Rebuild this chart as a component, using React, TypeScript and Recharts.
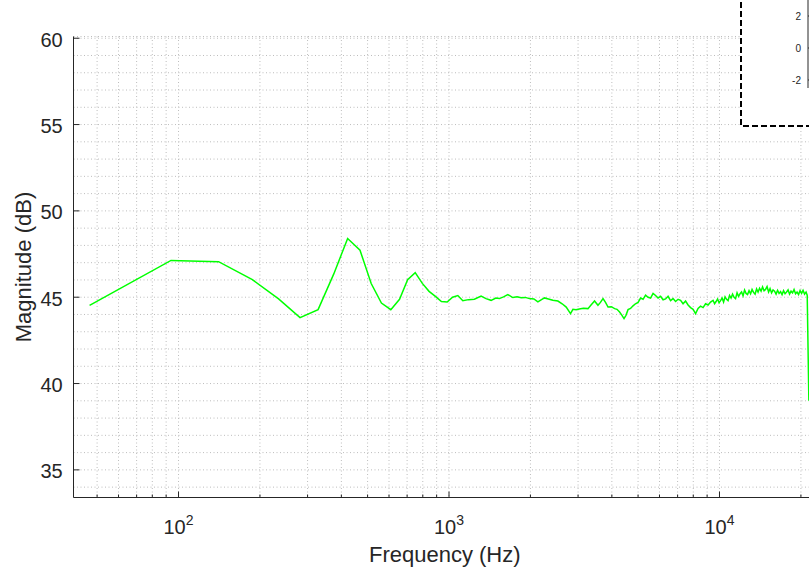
import React from "react";
import { LineChart, Line, XAxis, YAxis, CartesianGrid, Label } from "recharts";

// frequency bins (Hz) and magnitude (dB)
const freqHz = [
  46.9, 93.8, 140.6, 187.5, 234.4, 281.3, 328.1, 375, 421.9, 468.8, 515.6, 562.5,
  609.4, 656.3, 703.1, 750, 796.9, 843.8, 890.6, 937.5, 984.4, 1031, 1078, 1125,
  1180, 1241, 1314, 1370, 1431, 1490, 1536, 1590, 1650, 1722, 1785, 1848, 1915,
  1983, 2060, 2131, 2190, 2254, 2330, 2420, 2527, 2620, 2712, 2813, 2872, 2950,
  3030, 3140, 3264, 3350, 3452, 3554, 3630, 3710, 3790, 3871, 3980, 4095, 4180,
  4272, 4360, 4436, 4510, 4591, 4690, 4791, 4890,
  5000, 5108, 5217, 5330, 5444, 5562, 5681, 5803, 5928, 6056,
  6186, 6319, 6455, 6594, 6736, 6881, 7029, 7180, 7334, 7492,
  7653, 7818, 7986, 8158, 8333, 8512, 8695, 8882, 9073, 9268,
  9468, 9590, 9713, 9838, 9964, 10092, 10222, 10353, 10486, 10621,
  10757, 10895, 11035, 11177, 11321, 11466, 11613, 11763, 11914, 12067,
  12222, 12379, 12538, 12699, 12862, 13028, 13195, 13365, 13537, 13711,
  13887, 14065, 14246, 14429, 14614, 14802, 14992, 15185, 15380, 15578,
  15778, 15981, 16186, 16394, 16605, 16818, 17034, 17253, 17475, 17700,
  17927, 18157, 18391, 18627, 18866, 19109, 19354, 19603, 19855, 20110,
  20368, 20630, 20895, 21100, 21400,
];

const magnitudeDb = [
  44.53, 47.13, 47.06, 46.02, 44.9, 43.82, 44.28, 46.35, 48.4, 47.72, 45.79, 44.66,
  44.28, 44.88, 46.02, 46.42, 45.8, 45.34, 45.05, 44.75, 44.72, 45.0, 45.1, 44.8,
  44.86, 44.88, 45.07, 44.92, 44.82, 44.95, 44.92, 45.02, 45.15, 44.98, 45.02, 44.97, 44.99,
  44.92, 44.9, 44.73, 44.85, 44.96, 44.9, 44.82, 44.78, 44.62, 44.43, 44.05, 44.3, 44.28,
  44.32, 44.36, 44.34, 44.55, 44.78, 44.53, 44.7, 44.92, 44.7, 44.43, 44.45, 44.34, 44.3,
  44.14, 43.95, 43.76, 43.95, 44.28, 44.35, 44.5, 44.62,
  44.7, 44.95, 44.88, 45.12, 45.0, 44.95, 45.22, 45.1, 44.95, 45.05,
  44.85, 44.9, 45.05, 44.8, 44.92, 44.75, 44.88, 44.82, 44.62, 44.78,
  44.55, 44.4, 44.3, 44.05, 44.35, 44.48, 44.4, 44.62, 44.55, 44.72,
  44.82, 44.62, 44.75, 44.9, 44.68, 44.8, 44.95, 44.72, 45.02, 44.88,
  44.8, 45.1, 44.95, 45.18, 45.0, 44.92, 45.25, 45.05, 45.2, 45.3,
  45.08, 45.42, 45.22, 45.15, 45.38, 45.2, 45.45, 45.28, 45.18, 45.48,
  45.3, 45.52, 45.35, 45.6, 45.38, 45.45, 45.62, 45.3, 45.5, 45.25,
  45.42, 45.35, 45.18, 45.4, 45.22, 45.32, 45.15, 45.38, 45.2, 45.3,
  45.42, 45.18, 45.35, 45.25, 45.45, 45.2, 45.3, 45.15, 45.38, 45.22,
  45.4, 45.18, 45.3, 45.12, 39.0,
];

const decadeTicks = [100, 1000, 10000];
const minorFreqs = [
  50, 60, 70, 80, 90, 200, 300, 400, 500, 600, 700, 800, 900,
  2000, 3000, 4000, 5000, 6000, 7000, 8000, 9000, 20000,
];
const dbTicks = [35, 40, 45, 50, 55, 60];
const dbGrid = [
  34, 35, 36, 37, 38, 39, 40, 41, 42, 43, 44, 45, 46, 47, 48, 49, 50,
  51, 52, 53, 54, 55, 56, 57, 58, 59, 60,
];
const insetTicks = [-2, 0, 2];

const xDomain = [40.9, 22740];
const yDomain = [33.4, 60.1];
const insetDomain = [-2.5, 3];

const freqGrid = [...minorFreqs, ...decadeTicks].sort((a, b) => a - b);
const data = freqHz.map((f, i) => ({ f, db: magnitudeDb[i] }));

const FONT = "'Liberation Sans', Arial, Helvetica, sans-serif";
const AXIS = "#262626";
const GRID = "#bdbdbd";

const isDecade = (v: number) => decadeTicks.includes(v);

function BottomTick(props: any) {
  const { x, y, payload } = props;
  const v = payload.value as number;
  const major = isDecade(v);
  return (
    <g>
      <line x1={x} x2={x} y1={y} y2={y - (major ? 6 : 3)} stroke={AXIS} />
      {major && (
        <text x={x} y={y + 36} textAnchor="middle" fill={AXIS} fontSize={20} fontFamily={FONT}>
          10
          <tspan dy={-8.5} fontSize={14}>
            {Math.round(Math.log10(v))}
          </tspan>
        </text>
      )}
    </g>
  );
}

function TopTick(props: any) {
  const { x, y, payload } = props;
  const major = isDecade(payload.value);
  return <line x1={x} x2={x} y1={y} y2={y + (major ? 6 : 3)} stroke={AXIS} />;
}

function LeftTick(props: any) {
  const { x, y, payload } = props;
  if (!dbTicks.includes(payload.value)) return <g />;
  return (
    <g>
      <line x1={x} x2={x + 6} y1={y} y2={y} stroke={AXIS} />
      <text x={x - 10.8} y={y + 8.5} textAnchor="end" fill={AXIS} fontSize={20} fontFamily={FONT}>
        {payload.value}
      </text>
    </g>
  );
}

function InsetTick(props: any) {
  const { x, y, payload } = props;
  return (
    <g>
      <line x1={x} x2={x + 3} y1={y} y2={y} stroke={AXIS} />
      <text x={x - 7} y={y + 3.8} textAnchor="end" fill={AXIS} fontSize={10} fontFamily={FONT}>
        {payload.value}
      </text>
    </g>
  );
}

export default function App() {
  return (
    <div
      style={{
        position: "fixed",
        left: 0,
        top: 0,
        width: 809,
        height: 573,
        overflow: "hidden",
        background: "#fff",
      }}
    >
      <LineChart
        width={830}
        height={573}
        data={data}
        margin={{ top: 36.5, right: 14, bottom: 35.5, left: 13.5 }}
      >
        <CartesianGrid
          xAxisId="x"
          yAxisId="y"
          stroke={GRID}
          strokeDasharray="1 2.5"
          fill="none"
        />
        <XAxis
          xAxisId="x"
          dataKey="f"
          type="number"
          scale="log"
          domain={xDomain}
          allowDataOverflow
          ticks={freqGrid}
          interval={0}
          tickLine={false}
          tickSize={0}
          tickMargin={0}
          axisLine={{ stroke: AXIS }}
          height={40}
          tick={(p: any) => <BottomTick {...p} />}
        >
          <Label
            content={(p: any) => {
              const vb = p.viewBox;
              return (
                <text
                  x={vb.x + vb.width / 2}
                  y={vb.y + 64.5}
                  textAnchor="middle"
                  fill={AXIS}
                  fontSize={22}
                  fontFamily={FONT}
                >
                  Frequency (Hz)
                </text>
              );
            }}
          />
        </XAxis>
        <XAxis
          xAxisId="top"
          orientation="top"
          dataKey="f"
          type="number"
          scale="log"
          domain={xDomain}
          allowDataOverflow
          ticks={freqGrid}
          interval={0}
          tickLine={false}
          tickSize={0}
          tickMargin={0}
          axisLine={{ stroke: AXIS }}
          height={0}
          tick={(p: any) => <TopTick {...p} />}
        >
          <Label
            content={(p: any) => {
              const vb = p.viewBox;
              return (
                <text
                  x={vb.x + vb.width / 2}
                  y={25}
                  textAnchor="middle"
                  fill="#000"
                  fontSize={22}
                  fontWeight="bold"
                  fontFamily={FONT}
                >
                  Filter Response
                </text>
              );
            }}
          />
        </XAxis>
        <YAxis
          yAxisId="y"
          type="number"
          domain={yDomain}
          allowDataOverflow
          ticks={dbGrid}
          interval={0}
          tickLine={false}
          tickSize={0}
          tickMargin={0}
          axisLine={{ stroke: AXIS }}
          width={60}
          tick={(p: any) => <LeftTick {...p} />}
        >
          <Label
            content={(p: any) => {
              const vb = p.viewBox;
              const cy = vb.y + vb.height / 2;
              return (
                <text
                  x={30.5}
                  y={cy}
                  transform={`rotate(-90, 30.5, ${cy})`}
                  textAnchor="middle"
                  fill={AXIS}
                  fontSize={22}
                  fontFamily={FONT}
                >
                  Magnitude (dB)
                </text>
              );
            }}
          />
        </YAxis>
        <Line
          xAxisId="x"
          yAxisId="y"
          dataKey="db"
          type="linear"
          stroke="#00ff00"
          strokeWidth={1.5}
          dot={false}
          activeDot={false}
          isAnimationActive={false}
        />
      </LineChart>

      <svg
        width={809}
        height={573}
        style={{ position: "absolute", left: 0, top: 0, pointerEvents: "none" }}
      >
        <rect
          x={741}
          y={-20}
          width={120}
          height={146}
          fill="#fff"
          stroke="#000"
          strokeWidth={2}
          strokeDasharray="6 3"
        />
      </svg>

      <div style={{ position: "absolute", left: 741, top: 0 }}>
        <LineChart width={120} height={127} margin={{ top: 0, right: 0, bottom: 39, left: 17 }}>
          <XAxis
            type="number"
            domain={[0, 1]}
            height={0}
            tick={false}
            tickLine={false}
            axisLine={{ stroke: AXIS }}
          />
          <YAxis
            type="number"
            domain={insetDomain}
            allowDataOverflow
            ticks={insetTicks}
            interval={0}
            tickLine={false}
            tickSize={0}
            tickMargin={0}
            axisLine={{ stroke: AXIS }}
            width={50}
            tick={(p: any) => <InsetTick {...p} />}
          />
        </LineChart>
      </div>
    </div>
  );
}
